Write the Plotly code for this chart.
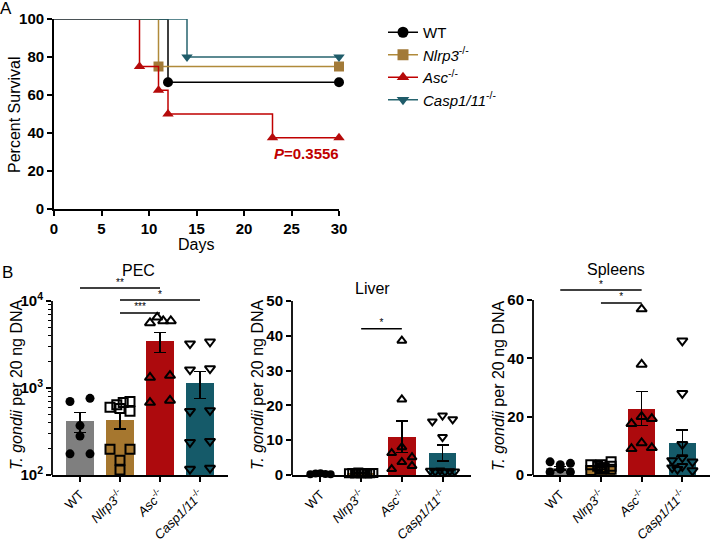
import plotly.graph_objects as go

W, H = 710, 545

# ---------------- Panel A data (Kaplan-Meier) ----------------
series_names = ["WT", "<i>Nlrp3</i><sup>-/-</sup>", "<i>Asc</i><sup>-/-</sup>", "<i>Casp1/11</i><sup>-/-</sup>"]
wt_days = [0, 12, 30]
wt_surv = [100, 66.7, 66.7]
nlrp3_days = [0, 11, 30]
nlrp3_surv = [100, 75, 75]
asc_days = [0, 9, 11, 12, 23, 30]
asc_surv = [100, 75, 62.5, 50, 37.5, 37.5]
casp_days = [0, 14, 30]
casp_surv = [100, 80, 80]
p_text = "<b><i>P</i>=0.3556</b>"
day_ticks = [0, 5, 10, 15, 20, 25, 30]
surv_ticks = [0, 20, 40, 60, 80, 100]

# ---------------- Panel B data ----------------
groups = ["WT", "<i>Nlrp3</i><sup>-/-</sup>", "<i>Asc</i><sup>-/-</sup>", "<i>Casp1/11</i><sup>-/-</sup>"]

pec_wt = [700, 760, 370, 280, 175, 175]
pec_nlrp3 = [600, 640, 680, 700, 580, 540, 198, 198, 148, 114]
pec_asc = [5600, 6500, 5900, 5900, 1320, 1390, 720, 680]
pec_casp = [3230, 3400, 1625, 1670, 540, 553, 238, 245, 117, 120]
pec_mean = [414, 430, 3450, 1150]
pec_sem = [107, 90, 900, 395]

liver_wt = [0.2, 0.4, 0.5, 0.3, 0.2]
liver_nlrp3 = [0.5, 0.6, 0.4, 0.7, 0.5, 0.6, 0.4, 0.5, 0.6]
liver_asc = [38.6, 21.7, 6.3, 8.0, 5.1, 3.7, 2.6, 1.7]
liver_casp = [15.4, 17.1, 16.0, 10.9, 1.2, 1.0, 1.3, 0.9, 1.1, 1.0]
liver_mean = [0.3, 0.5, 11.0, 6.3]
liver_sem = [0.1, 0.1, 4.5, 2.3]

spleen_wt = [4.5, 3.5, 4.0, 1.0, 1.0, 2.0]
spleen_nlrp3 = [3.5, 3.0, 2.5, 4.5, 2.5, 2.0, 1.5, 3.0, 3.5, 2.0]
spleen_asc = [56.9, 37.9, 17.6, 20.0, 19.3, 11.0, 9.0, 9.3]
spleen_casp = [46.0, 28.0, 10.5, 5.0, 6.0, 4.5, 2.5, 3.0, 1.5, 2.0]
spleen_mean = [2.4, 2.8, 22.8, 10.9]
spleen_sem = [0.6, 0.3, 5.9, 4.6]

# jitter offsets of the scatter points (in category units)
jit_wt6 = [-0.25, 0.25, 0.0, 0.0, -0.25, 0.25]
jit_n10 = [-0.25, -0.08, 0.08, 0.25, 0.0, 0.25, -0.25, 0.25, 0.0, 0.0]
jit_a8 = [-0.25, -0.07, 0.08, 0.27, -0.25, 0.25, 0.25, -0.25]
jit_c10 = [-0.25, 0.25, -0.25, 0.25, -0.25, 0.25, -0.25, 0.25, -0.25, 0.25]
jit_wt5 = [-0.25, -0.12, 0.0, 0.12, 0.25]
jit_n9 = [-0.3, -0.22, -0.15, -0.07, 0.0, 0.07, 0.15, 0.22, 0.3]
jit_la8 = [0.0, 0.0, -0.25, 0.0, 0.25, 0.0, 0.25, -0.25]
jit_lc10 = [-0.25, 0.0, 0.25, 0.0, -0.3, -0.18, -0.06, 0.06, 0.18, 0.3]
jit_sw6 = [-0.25, 0.0, 0.25, -0.25, 0.25, 0.0]
jit_sa8 = [0.0, 0.0, -0.25, 0.0, 0.25, 0.0, -0.25, 0.25]
jit_sc10 = [0.0, 0.0, 0.0, -0.25, 0.0, 0.25, -0.25, 0.0, 0.25, -0.12]

# significance brackets: (from, to, height, label)
pec_sig = [(0, 2, 14100, "**"), (1, 3, 10250, "*"), (1, 2, 7290, "***")]
liver_sig = [(1, 2, 42, "*")]
spleen_sig = [(0, 2, 63.4, "*"), (1, 2, 59, "*")]

# ---------------- styles ----------------
km_colors = ["black", "#b08a3a", "#c00000", "#27646f"]
km_marker_colors = ["black", "#a27a38", "#b50a0a", "#1f5c6a"]
km_symbols = ["circle", "square", "triangle-up", "triangle-down"]
bar_colors = ["#7f7f7f", "#a6772f", "#ad0a0d", "#155a69"]
pt_symbols = ["circle", "square-open", "triangle-up-open", "triangle-down-open"]
FONT = "Liberation Sans, Arial, sans-serif"


def px_x(p):
    return p / W


def px_y(p):
    return 1 - p / H


fig = go.Figure()

# ---- Panel A ----
km = [(wt_days, wt_surv), (nlrp3_days, nlrp3_surv), (asc_days, asc_surv), (casp_days, casp_surv)]
for i, (d, s) in enumerate(km):
    fig.add_trace(go.Scatter(x=d, y=s, mode="lines", line=dict(color=km_colors[i], width=1.5, shape="hv"),
                             showlegend=False, xaxis="x", yaxis="y", cliponaxis=False))
    fig.add_trace(go.Scatter(x=d[1:], y=s[1:], mode="markers",
                             marker=dict(symbol=km_symbols[i], size=10, color=km_marker_colors[i]),
                             showlegend=False, xaxis="x", yaxis="y", cliponaxis=False))
for i in range(4):
    fig.add_trace(go.Scatter(x=[None], y=[None], mode="lines+markers", name=series_names[i],
                             line=dict(color=km_colors[i], width=1.5),
                             marker=dict(symbol=km_symbols[i], size=11, color=km_marker_colors[i]),
                             xaxis="x", yaxis="y"))
fig.add_annotation(x=30, y=37.5, xref="x", yref="y", text=p_text, showarrow=False,
                   xanchor="right", yanchor="top", yshift=-5, xshift=2,
                   font=dict(size=15, color="#c00000", family=FONT))

# ---- Panel B ----
panels = [
    ("x2", "y2", [pec_wt, pec_nlrp3, pec_asc, pec_casp], pec_mean, pec_sem,
     [jit_wt6, jit_n10, jit_a8, jit_c10], pec_sig, 9),
    ("x3", "y3", [liver_wt, liver_nlrp3, liver_asc, liver_casp], liver_mean, liver_sem,
     [jit_wt5, jit_n9, jit_la8, jit_lc10], liver_sig, 8),
    ("x4", "y4", [spleen_wt, spleen_nlrp3, spleen_asc, spleen_casp], spleen_mean, spleen_sem,
     [jit_sw6, jit_n10, jit_sa8, jit_sc10], spleen_sig, 9),
]
for xa, ya, pts, means, sems, jits, sigs, msize in panels:
    fig.add_trace(go.Bar(x=list(range(4)), y=means, width=0.68, marker=dict(color=bar_colors, line=dict(width=0)),
                         error_y=dict(type="data", array=sems, color="black", thickness=1.5, width=6),
                         showlegend=False, xaxis=xa, yaxis=ya))
    for g in range(4):
        xs = [g + o for o in jits[g][:len(pts[g])]]
        if g == 0:
            mk = dict(symbol="circle", size=msize, color="black")
        else:
            mk = dict(symbol=pt_symbols[g], size=msize, color="black", line=dict(width=2, color="black"))
        fig.add_trace(go.Scatter(x=xs, y=pts[g], mode="markers", marker=mk, showlegend=False,
                                 xaxis=xa, yaxis=ya, cliponaxis=False))
    for a, b, h, lab in sigs:
        fig.add_trace(go.Scatter(x=[a, b], y=[h, h], mode="lines", line=dict(color="black", width=1.5),
                                 showlegend=False, xaxis=xa, yaxis=ya, cliponaxis=False))
        fig.add_trace(go.Scatter(x=[(a + b) / 2], y=[h], mode="text", text=[lab], textposition="top center",
                                 textfont=dict(size=10, color="black", family=FONT),
                                 showlegend=False, xaxis=xa, yaxis=ya, cliponaxis=False))

# ---------------- axes ----------------
tick_font = dict(size=15, family=FONT, color="black", weight="bold")
cat_font = dict(size=13, family=FONT, color="black")
common = dict(showline=True, linecolor="black", linewidth=1.8, ticks="outside", ticklen=5, tickwidth=1.5,
              tickcolor="black", showgrid=False, zeroline=False, tickfont=tick_font, automargin=False)

Y_BOT = 475
layout = dict(
    width=W, height=H, margin=dict(l=0, r=0, t=0, b=0, pad=0, autoexpand=False),
    plot_bgcolor="white", paper_bgcolor="white",
    font=dict(family=FONT, color="black"),
    bargap=0,
    xaxis=dict(domain=[px_x(54), px_x(339)], range=[0, 30], tickvals=day_ticks, anchor="y", **common),
    yaxis=dict(domain=[px_y(209), px_y(19)], range=[0, 100], tickvals=surv_ticks, anchor="x", **common),
    legend=dict(x=px_x(383), y=px_y(16), xanchor="left", yanchor="top", bgcolor="rgba(0,0,0,0)",
                font=dict(size=15, family=FONT, color="black"), tracegroupgap=0, itemwidth=30),
)

cat_common = dict(common)
cat_common.update(tickfont=cat_font, tickangle=-45, tickvals=list(range(4)), ticktext=groups)

layout["xaxis2"] = dict(domain=[px_x(52), px_x(228)], range=[-0.7, 3.7], anchor="y2", **cat_common)
layout["xaxis3"] = dict(domain=[px_x(292), px_x(471)], range=[-0.7, 3.7], anchor="y3", **cat_common)
layout["xaxis4"] = dict(domain=[px_x(533), px_x(710)], range=[-0.67, 3.68], anchor="y4", **cat_common)

ycommon = dict(common)
ycommon.update(showline=False)
# PEC: log axis; 10^2 at Y_BOT, 10^4 at 301 px
dec = (Y_BOT - 301) / 2
layout["yaxis2"] = dict(domain=[px_y(Y_BOT), px_y(270)], type="log", range=[2, 2 + (Y_BOT - 270) / dec],
                        tickvals=[100, 1000, 10000], ticktext=["10<sup>2</sup>", "10<sup>3</sup>", "10<sup>4</sup>"],
                        anchor="x2",
                        minor=dict(ticks="outside", ticklen=3, tickwidth=1, tickcolor="black",
                                   tickvals=[k * m for m in (100, 1000) for k in range(2, 10)]),
                        **ycommon)
layout["yaxis3"] = dict(domain=[px_y(Y_BOT), px_y(301)], range=[0, 50], tickvals=[0, 10, 20, 30, 40, 50],
                        anchor="x3", **ycommon)
sp = (Y_BOT - 300) / 60
layout["yaxis4"] = dict(domain=[px_y(Y_BOT), px_y(270)], range=[0, (Y_BOT - 270) / sp],
                        tickvals=[0, 20, 40, 60], anchor="x4", **ycommon)
fig.update_layout(**layout)

# y axis lines for panel B (stop at the top tick)
for xa, ya, top in [("x2", "y2", 10000), ("x3", "y3", 50), ("x4", "y4", 60)]:
    fig.add_shape(type="line", xref=xa + " domain", yref=ya, x0=0, x1=0,
                  y0=(100 if xa == "x2" else 0), y1=top, line=dict(color="black", width=1.8))

# ---------------- titles / labels ----------------
def ann(x, y, text, size=16, angle=0):
    fig.add_annotation(x=px_x(x), y=px_y(y), xref="paper", yref="paper", text=text, showarrow=False,
                       xanchor="center", yanchor="middle",
                       textangle=angle, font=dict(size=size, family=FONT, color="black"))

ann(6, 8, "A", size=17)
ann(7, 272, "B", size=17)
ann(14, 115, "Percent Survival", angle=-90)
ann(196, 244, "Days")
ann(138, 270, "PEC")
ann(372, 288, "Liver")
ann(616, 269, "Spleens")
ytitle = "<i>T. gondii</i> per 20 ng DNA"
ann(16, 385, ytitle, angle=-90)
ann(257, 385, ytitle, angle=-90)
ann(498, 385, ytitle, angle=-90)

fig.write_html("out.html", config={"displayModeBar": False},
               post_script="document.body.style.margin='0';document.body.style.overflow='hidden';")
